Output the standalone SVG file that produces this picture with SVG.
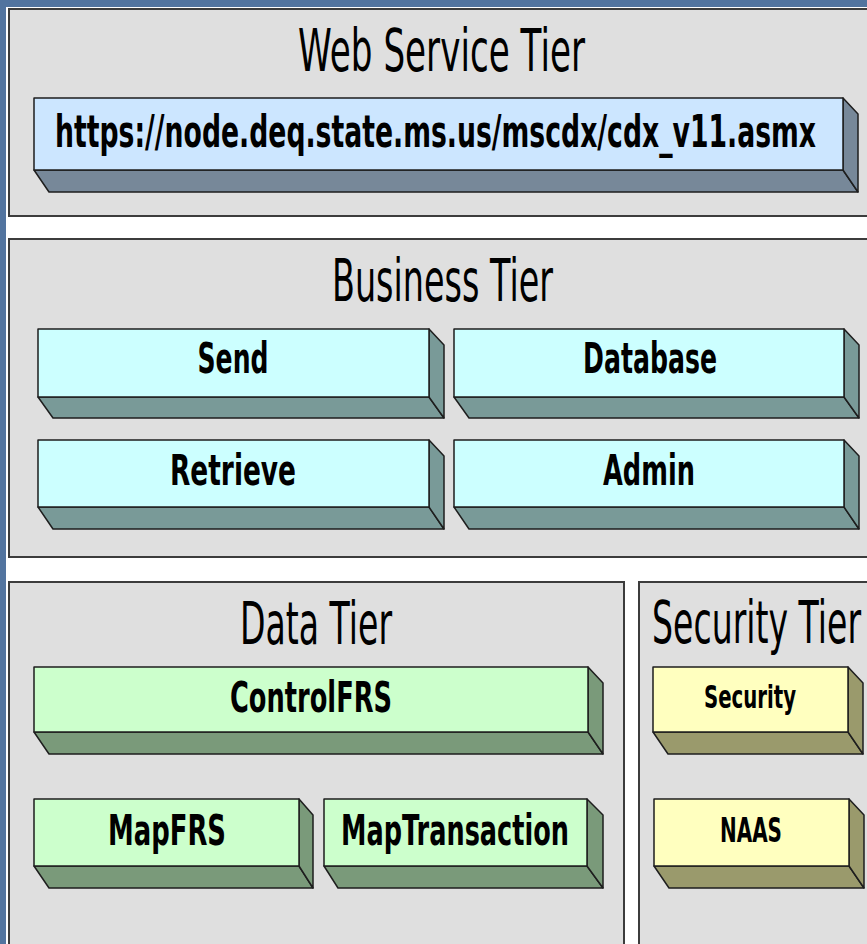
<svg xmlns="http://www.w3.org/2000/svg" width="867" height="944" viewBox="0 0 867 944">
<defs>
<style>
.panel{fill:#dfdfdf;stroke:#3c3c3c;stroke-width:2}
.edge{stroke:#1e1e1e;stroke-width:1.5;stroke-linejoin:round}
.title{font-family:"DejaVu Sans","Liberation Sans",sans-serif;font-size:59px;fill:#000}
.lbl{font-family:"DejaVu Sans","Liberation Sans",sans-serif;font-weight:bold;font-size:42px;fill:#000}
.lbl-s{font-family:"DejaVu Sans","Liberation Sans",sans-serif;font-weight:bold;font-size:32px;fill:#000}
.web-f{fill:#cce6ff}.web-d{fill:#778899}
.bus-f{fill:#ccffff}.bus-d{fill:#799a98}
.dat-f{fill:#ccffcc}.dat-d{fill:#7a9a7a}
.sec-f{fill:#ffffbf}.sec-d{fill:#9a9a6c}
</style>
</defs>
<rect x="0" y="0" width="867" height="944" fill="#52749f"/>
<rect x="6" y="7" width="861" height="937" fill="#ffffff"/>

<g id="web-tier">
<rect class="panel" x="9" y="9" width="870" height="207"/>
<text class="title" x="441.5" y="71" text-anchor="middle" textLength="287" lengthAdjust="spacingAndGlyphs">Web Service Tier</text>
</g>
<g id="node-url">
<polygon class="web-d edge" points="34,170 843,170 858,192 49,192"/>
<polygon class="web-d edge" points="843,98 858,114 858,192 843,170"/>
<rect class="web-f edge" x="34" y="98" width="809" height="72"/>
<text class="lbl" x="0" y="0" transform="translate(435.5,147) scale(1,1.69)" text-anchor="middle" textLength="761" lengthAdjust="spacingAndGlyphs" style="font-size:26.7px">https://node.deq.state.ms.us/mscdx/cdx_v11.asmx</text>
</g>

<g id="business-tier">
<rect class="panel" x="9" y="239" width="870" height="318"/>
<text class="title" x="442.5" y="301" text-anchor="middle" textLength="221" lengthAdjust="spacingAndGlyphs">Business Tier</text>
</g>
<g id="node-send">
<polygon class="bus-d edge" points="38,397 429,397 444,418 53,418"/>
<polygon class="bus-d edge" points="429,329 444,345 444,418 429,397"/>
<rect class="bus-f edge" x="38" y="329" width="391" height="68"/>
<text class="lbl" x="233" y="373" text-anchor="middle" textLength="71" lengthAdjust="spacingAndGlyphs">Send</text>
</g>
<g id="node-database">
<polygon class="bus-d edge" points="454,397 844,397 859,418 469,418"/>
<polygon class="bus-d edge" points="844,329 859,345 859,418 844,397"/>
<rect class="bus-f edge" x="454" y="329" width="390" height="68"/>
<text class="lbl" x="650" y="373" text-anchor="middle" textLength="134" lengthAdjust="spacingAndGlyphs">Database</text>
</g>
<g id="node-retrieve">
<polygon class="bus-d edge" points="38,507 429,507 444,529 53,529"/>
<polygon class="bus-d edge" points="429,440 444,456 444,529 429,507"/>
<rect class="bus-f edge" x="38" y="440" width="391" height="67"/>
<text class="lbl" x="233" y="485" text-anchor="middle" textLength="126" lengthAdjust="spacingAndGlyphs">Retrieve</text>
</g>
<g id="node-admin">
<polygon class="bus-d edge" points="454,507 844,507 859,529 469,529"/>
<polygon class="bus-d edge" points="844,440 859,456 859,529 844,507"/>
<rect class="bus-f edge" x="454" y="440" width="390" height="67"/>
<text class="lbl" x="649" y="485" text-anchor="middle" textLength="92" lengthAdjust="spacingAndGlyphs">Admin</text>
</g>

<g id="data-tier">
<rect class="panel" x="9" y="582" width="615" height="380"/>
<text class="title" x="316" y="644" text-anchor="middle" textLength="152" lengthAdjust="spacingAndGlyphs">Data Tier</text>
</g>
<g id="node-controlfrs">
<polygon class="dat-d edge" points="34,732 588,732 603,754 49,754"/>
<polygon class="dat-d edge" points="588,667 603,683 603,754 588,732"/>
<rect class="dat-f edge" x="34" y="667" width="554" height="65"/>
<text class="lbl" x="311" y="712" text-anchor="middle" textLength="162" lengthAdjust="spacingAndGlyphs">ControlFRS</text>
</g>
<g id="node-mapfrs">
<polygon class="dat-d edge" points="34,866 299,866 313,888 49,888"/>
<polygon class="dat-d edge" points="299,799 313,815 313,888 299,866"/>
<rect class="dat-f edge" x="34" y="799" width="265" height="67"/>
<text class="lbl" x="167" y="845" text-anchor="middle" textLength="118" lengthAdjust="spacingAndGlyphs">MapFRS</text>
</g>
<g id="node-maptransaction">
<polygon class="dat-d edge" points="324,866 587,866 603,888 338,888"/>
<polygon class="dat-d edge" points="587,799 603,815 603,888 587,866"/>
<rect class="dat-f edge" x="324" y="799" width="263" height="67"/>
<text class="lbl" x="455" y="845" text-anchor="middle" textLength="228" lengthAdjust="spacingAndGlyphs">MapTransaction</text>
</g>

<g id="security-tier">
<rect class="panel" x="639" y="582" width="240" height="380"/>
<text class="title" x="0" y="0" transform="translate(756.5,643) scale(1,1.79)" text-anchor="middle" textLength="209" lengthAdjust="spacingAndGlyphs" style="font-size:33px">Security Tier</text>
</g>
<g id="node-security">
<polygon class="sec-d edge" points="653,732 848,732 863,754 668,754"/>
<polygon class="sec-d edge" points="848,667 863,683 863,754 848,732"/>
<rect class="sec-f edge" x="653" y="667" width="195" height="65"/>
<text class="lbl-s" x="750" y="708" text-anchor="middle" textLength="92" lengthAdjust="spacingAndGlyphs">Security</text>
</g>
<g id="node-naas">
<polygon class="sec-d edge" points="654,866 849,866 864,888 669,888"/>
<polygon class="sec-d edge" points="849,799 864,815 864,888 849,866"/>
<rect class="sec-f edge" x="654" y="799" width="195" height="67"/>
<text class="lbl-s" x="751" y="842" text-anchor="middle" textLength="62" lengthAdjust="spacingAndGlyphs" style="font-size:34px">NAAS</text>
</g>

<g id="connectors"></g>
</svg>
